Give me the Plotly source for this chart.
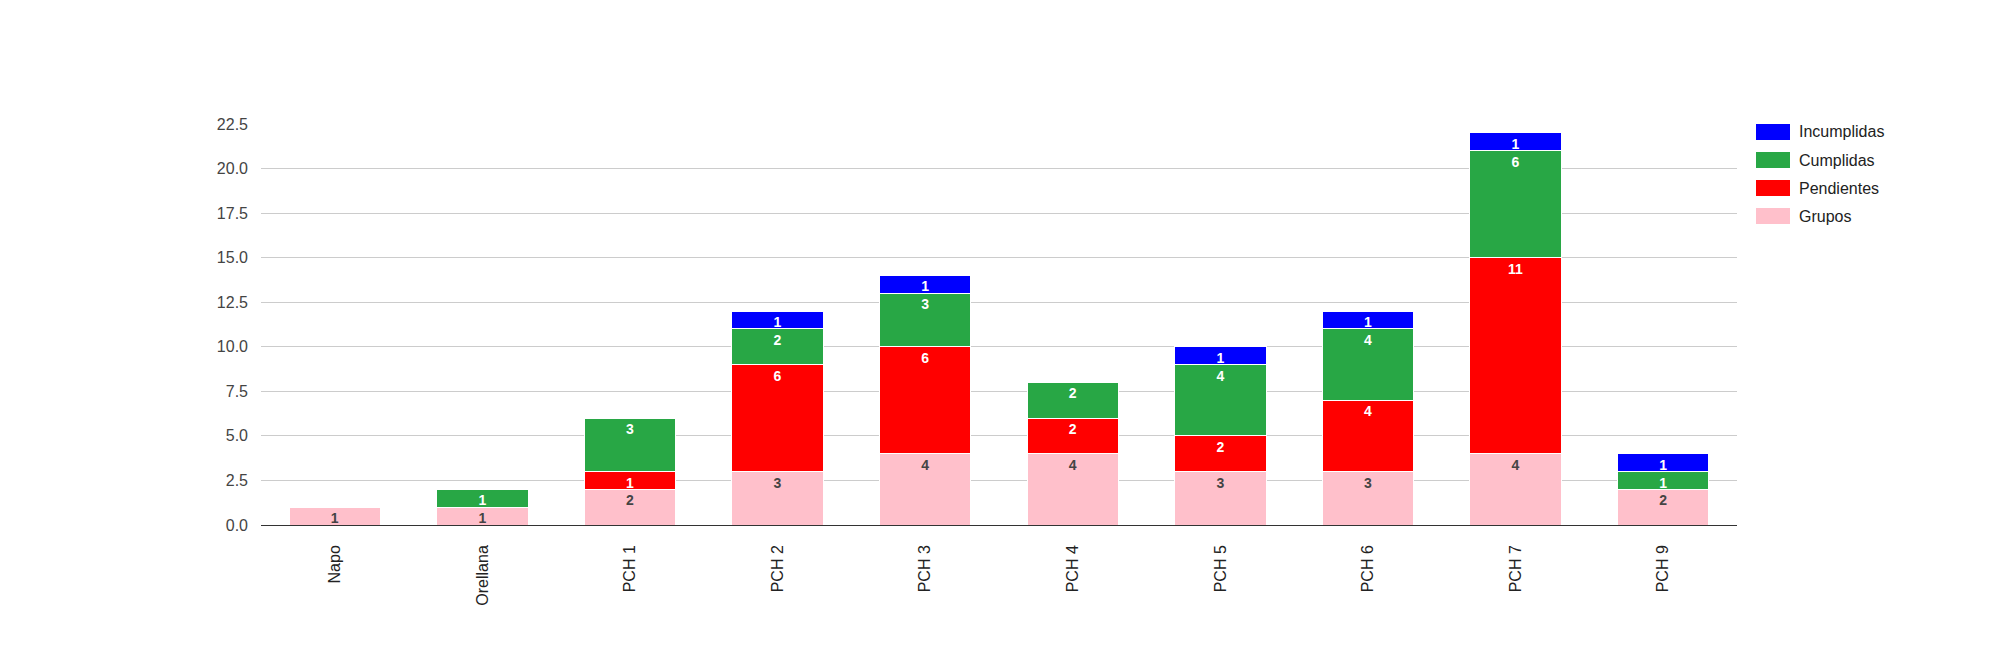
import plotly.graph_objects as go

# datos por grupo
lugares = ["Napo", "Orellana", "PCH 1", "PCH 2", "PCH 3", "PCH 4", "PCH 5", "PCH 6", "PCH 7", "PCH 9"]
grupos = [1, 1, 2, 3, 4, 4, 3, 3, 4, 2]
pendientes = [0, 0, 1, 6, 6, 2, 2, 4, 11, 0]
cumplidas = [0, 1, 3, 2, 3, 2, 4, 4, 6, 1]
incumplidas = [0, 0, 0, 1, 1, 0, 1, 1, 1, 1]

series = [
    ("Grupos", grupos, "#FFC0CB", "#444444"),
    ("Pendientes", pendientes, "#FF0000", "#FFFFFF"),
    ("Cumplidas", cumplidas, "#28A745", "#FFFFFF"),
    ("Incumplidas", incumplidas, "#0000FF", "#FFFFFF"),
]

FONT = "Liberation Sans, Arial, sans-serif"
W, H = 2000, 650
# la pagina tiene 8px de margen en el body
OFF = 8
L, R, T, B = 261 - OFF, 263 + OFF, 124 - OFF, 125 + OFF

fig = go.Figure()
for nombre, vals, color, tcolor in series:
    fig.add_trace(go.Bar(
        x=lugares, y=vals, name=nombre,
        marker=dict(color=color, line=dict(color="white", width=1)),
        text=[str(v) if v else "" for v in vals],
        textposition="inside", insidetextanchor="end", textangle=0,
        textfont=dict(family=FONT, size=14, color=tcolor, weight="bold"),
        showlegend=False, hoverinfo="x+y+name",
    ))

# leyenda a mano (cuadros anchos como en el original)
pw = W - L - R
ph = H - T - B
shapes = []
annots = []
for i, (nombre, vals, color, tcolor) in enumerate(reversed(series)):
    cy = 132 + 28 * i - OFF
    x0 = (1756 - OFF - L) / pw
    x1 = (1790 - OFF - L) / pw
    y0 = 1 - (cy - 8 - T) / ph
    y1 = 1 - (cy + 8 - T) / ph
    shapes.append(dict(type="rect", xref="paper", yref="paper", x0=x0, x1=x1, y0=y0, y1=y1,
                       fillcolor=color, line=dict(width=0)))
    annots.append(dict(xref="paper", yref="paper", x=(1797 - OFF - L) / pw, y=1 - (cy - T) / ph,
                       text=nombre, showarrow=False, xanchor="left", yanchor="middle",
                       font=dict(family=FONT, size=16, color="#222222")))

fig.update_layout(
    width=W, height=H,
    barmode="stack", bargap=0.38,
    plot_bgcolor="white", paper_bgcolor="white",
    margin=dict(l=L, r=R, t=T, b=B),
    font=dict(family=FONT, size=16, color="#444444"),
    uniformtext=dict(minsize=14, mode="show"),
    shapes=shapes, annotations=annots,
)
fig.update_yaxes(range=[0, 22.5], dtick=2.5, tickformat=".1f", showgrid=True,
                 gridcolor="#CCCCCC", gridwidth=1, zeroline=True, zerolinecolor="#333333",
                 zerolinewidth=1, ticks="", ticklabelstandoff=12,
                 tickfont=dict(size=16, color="#444444"))
fig.update_xaxes(tickangle=-90, showgrid=False, showline=False, ticks="",
                 ticklabelstandoff=16, tickfont=dict(size=16, color="#222222"))

fig.write_html("out.html")
